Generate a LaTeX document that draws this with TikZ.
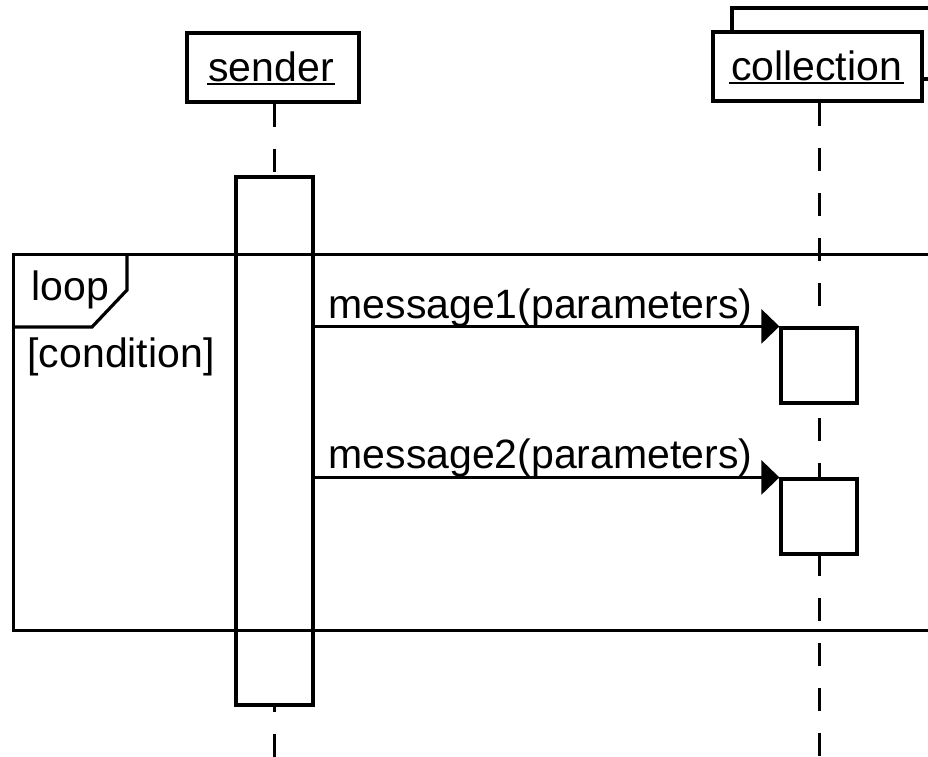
\documentclass[tikz,border=0pt]{standalone}
\usepackage{fontspec}
\setmainfont{Liberation Sans}
\usetikzlibrary{arrows.meta}
\begin{document}
\begin{tikzpicture}[x=1pt,y=-1pt,
  line width=3.2pt,
  box/.style={draw, fill=white, inner sep=0pt, line width=3.2pt},
  lifeline/.style={line width=3pt, dash pattern=on 23pt off 22pt},
  msg/.style={line width=3pt, -{Triangle[length=18pt,width=34pt]}},
  lbl/.style={inner sep=0pt, font=\fontsize{41}{48}\selectfont},
  uline/.style={line width=2.5pt},
]
\useasboundingbox (0,0) rectangle (928,756);
\clip (0,0) rectangle (928,756);

% object heads
\node[box, minimum width=172pt, minimum height=69pt] (sender) at (273,67.5) {};
\draw[fill=white] (732,8) rectangle (980,79);
\node[box, minimum width=209pt, minimum height=69pt] (coll) at (817.5,66.5) {};

% lifelines
\coordinate (senderEnd) at (274.5,770);
\coordinate (collEnd) at (819,770);
\draw[lifeline] (sender.south -| senderEnd) -- (senderEnd);
\draw[lifeline] (coll.south -| collEnd) -- (collEnd);

% activation bars
\node[box, minimum width=77pt, minimum height=528pt] (actS) at (274.5,441) {};
\node[box, minimum width=76pt, minimum height=75pt] (act1) at (819,365.5) {};
\node[box, minimum width=76pt, minimum height=75pt] (act2) at (819,516.5) {};

% loop fragment
\node[draw, inner sep=0pt, minimum width=980pt, minimum height=376pt,
      anchor=north west] (loopframe) at (12,253) {};
\draw (127,253) -- (127,290) -- (92,327) -- (12,327);

% messages
\draw[msg] (actS.east |- act1.north) -- (act1.north west);
\draw[msg] (actS.east |- act2.north) -- (act2.north west);

% texts
\node[lbl, anchor=base] (sendertxt) at (271,81) {sender};
\node[lbl, anchor=base] (colltxt) at (816.5,80) {collection};
\draw[uline] ([yshift=-3pt]sendertxt.base west) -- ([yshift=-3pt]sendertxt.base east);
\draw[uline] ([yshift=-3pt]colltxt.base west) -- ([yshift=-3pt]colltxt.base east);
\node[lbl, anchor=base west] (looptxt) at (30,300) {loop};
\node[lbl, anchor=base west] (condtxt) at (26,367) {[condition]};
\node[lbl, anchor=base west] (m1txt) at (327,318) {message1(parameters)};
\node[lbl, anchor=base west] (m2txt) at (327,468) {message2(parameters)};
\end{tikzpicture}
\end{document}
